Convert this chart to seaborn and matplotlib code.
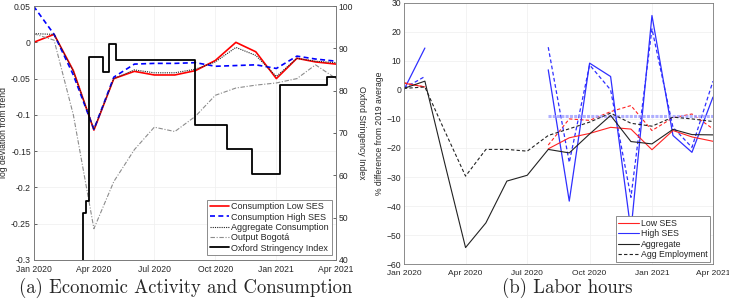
import seaborn as sns
import pandas as pd
import numpy as np
import matplotlib.pyplot as plt
import matplotlib.dates as mdates

# monthly dates Jan 2020 .. Apr 2021
months = pd.date_range("2020-01-01", "2021-04-01", freq="MS")

# panel (a): log deviation from trend
cons_low = [0.0, 0.011, -0.039, -0.121, -0.050, -0.040, -0.045, -0.045, -0.039,
            -0.025, 0.000, -0.013, -0.050, -0.022, -0.027, -0.030]
cons_high = [0.050, 0.011, -0.045, -0.120, -0.048, -0.030, -0.029, -0.029, -0.028,
             -0.033, -0.032, -0.031, -0.036, -0.019, -0.023, -0.026]
cons_agg = [0.012, 0.011, -0.040, -0.120, -0.050, -0.038, -0.042, -0.042, -0.037,
            -0.027, -0.007, -0.018, -0.047, -0.022, -0.026, -0.028]
output_bog = [0.012, 0.003, -0.100, -0.257, -0.192, -0.148, -0.117, -0.123, -0.102,
              -0.073, -0.063, -0.059, -0.056, -0.050, -0.031, -0.050]

# Oxford stringency index (step changes)
osi_dates = pd.to_datetime(["2020-01-01", "2020-03-15", "2020-03-20", "2020-03-24",
                            "2020-04-14", "2020-04-23", "2020-05-04", "2020-08-31",
                            "2020-10-18", "2020-11-25", "2021-01-06", "2021-03-19",
                            "2021-04-01"])
osi_vals = [5.6, 51, 54, 88, 84.5, 91, 87.3, 71.8, 66.2, 60.3, 81.3, 83.2, 83.2]

# panel (b): % difference from 2019 average
nan = np.nan
low_hours = [2.3, 1.0, nan, nan, nan, nan, nan, -20.3, -16.5, -15.0, -12.9, -13.5,
             -20.6, -14.0, -16.2, -17.7]
low_emp = [2.5, 1.0, nan, nan, nan, nan, nan, -19.0, -10.0, -10.5, -7.5, -5.4,
           -14.0, -9.6, -8.3, -13.4]
high_hours = [0.0, 14.4, nan, nan, nan, nan, nan, 6.9, -38.3, 9.2, 4.6, -48.6,
              25.6, -15.7, -21.5, -2.5]
high_emp = [0.5, 4.6, nan, nan, nan, nan, nan, 14.7, -25.0, 8.6, 0.0, -37.0,
            21.0, -12.9, -19.8, 3.0]
agg_hours = [0.5, 3.0, -25.0, -54.3, -45.8, -31.4, -29.4, -20.5, -21.7, -15.2,
             -8.8, -17.8, -18.6, -13.6, -15.4, -15.5]
agg_emp = [0.5, 1.0, -14.0, -29.7, -20.5, -20.5, -21.1, -15.7, -13.4, -11.1,
           -8.0, -11.5, -12.5, -9.4, -10.0, -10.9]
high_ref = -9.1

xticks = pd.to_datetime(["2020-01-01", "2020-04-01", "2020-07-01", "2020-10-01",
                         "2021-01-01", "2021-04-01"])

sns.set_style("whitegrid", {"grid.color": "#efefef", "axes.edgecolor": "#7a7a7a",
                            "xtick.direction": "in", "ytick.direction": "in"})
plt.rcParams["font.family"] = ["Liberation Sans", "DejaVu Sans"]
plt.rcParams["font.size"] = 6.2
plt.rcParams["axes.linewidth"] = 0.6
plt.rcParams["grid.linewidth"] = 0.5

fig = plt.figure(figsize=(7.29, 3.05), dpi=100)
ax1 = fig.add_axes([0.046, 0.148, 0.415, 0.832])
ax3 = fig.add_axes([0.554, 0.134, 0.424, 0.857])


def segs(vals):
    df = pd.DataFrame({"date": months, "val": vals})
    df["seg"] = df["val"].isna().cumsum()
    return df.dropna()


# ---- panel (a)
dfa = pd.DataFrame({"date": months, "low": cons_low, "high": cons_high,
                    "agg": cons_agg, "out": output_bog})
sns.lineplot(data=dfa, x="date", y="low", color="#ff0000", lw=1.2, ax=ax1,
             label="Consumption Low SES")
sns.lineplot(data=dfa, x="date", y="high", color="#0000ff", lw=1.2, ax=ax1,
             linestyle=(0, (3, 2)), label="Consumption High SES")
sns.lineplot(data=dfa, x="date", y="agg", color="#222222", lw=0.8, ax=ax1,
             linestyle=(0, (1, 1)), label="Aggregate Consumption")
sns.lineplot(data=dfa, x="date", y="out", color="#8c8c8c", lw=0.8, ax=ax1,
             linestyle=(0, (4, 1.5, 1, 1.5)), label="Output Bogotá")
ax1.set_ylim(-0.3, 0.05)
ax1.set_yticks([-0.3, -0.25, -0.2, -0.15, -0.1, -0.05, 0, 0.05])
ax1.set_yticklabels(["-0.3", "-0.25", "-0.2", "-0.15", "-0.1", "-0.05", "0", "0.05"])
ax1.set_ylabel("log deviation from trend", labelpad=2)
ax1.set_xlabel("")

ax2 = ax1.twinx()
dfs = pd.DataFrame({"date": osi_dates, "osi": osi_vals})
sns.lineplot(data=dfs, x="date", y="osi", color="black", lw=1.3, ax=ax2,
             drawstyle="steps-post", label="Oxford Stringency Index")
ax2.set_ylim(40, 100)
ax2.set_yticks(range(40, 101, 10))
ax2.grid(False)
ax2.set_ylabel("Oxford Stringency Index", rotation=270, labelpad=9)
ax2.set_xlabel("")

h1, l1 = ax1.get_legend_handles_labels()
h2, l2 = ax2.get_legend_handles_labels()
ax1.get_legend().remove()
ax2.get_legend().remove()
leg = ax2.legend(h1 + h2, l1 + l2, loc="lower right", fontsize=6.5, handlelength=2.2,
                 handletextpad=0.2, borderpad=0.3, labelspacing=0.15, fancybox=False,
                 edgecolor="#7a7a7a", framealpha=1, borderaxespad=0.5)
leg.get_frame().set_linewidth(0.6)

for ax in (ax1, ax2):
    ax.set_xlim(months[0], months[-1])
    ax.set_xticks(xticks)
    ax.xaxis.set_major_formatter(mdates.DateFormatter("%b %Y"))
    ax.tick_params(length=2.5, width=0.5, pad=2, colors="#262626")
    ax.tick_params(axis="x", pad=4)

# ---- panel (b)
def seg_line(vals, color, ls, lw):
    d = segs(vals)
    sns.lineplot(data=d, x="date", y="val", units="seg", estimator=None, color=color,
                 linestyle=ls, lw=lw, ax=ax3)

seg_line(low_emp, "#ff2222", (0, (3, 2)), 0.8)
seg_line(high_emp, "#2f2fff", (0, (3, 2)), 0.9)
seg_line(high_hours, "#2f2fff", "-", 0.9)
ax3.plot([months[7], months[-1]], [high_ref, high_ref], color="#9c9cff", lw=2.2,
         linestyle=(0, (1, 0.4)), alpha=0.8)
seg_line(low_hours, "#ff2222", "-", 0.8)
seg_line(agg_emp, "#222222", (0, (3, 2)), 0.8)
seg_line(agg_hours, "#222222", "-", 0.8)

ax3.plot([], [], color="#ff2222", lw=0.8, label="Low SES")
ax3.plot([], [], color="#2f2fff", lw=0.8, label="High SES")
ax3.plot([], [], color="#222222", lw=0.8, label="Aggregate")
ax3.plot([], [], color="#222222", lw=0.8, linestyle=(0, (3, 2)), label="Agg Employment")
leg3 = ax3.legend(loc="lower right", fontsize=6.3, handlelength=2.4, handletextpad=0.2,
                  borderpad=0.3, labelspacing=0.15, fancybox=False, edgecolor="#7a7a7a",
                  framealpha=1, borderaxespad=0.3)
leg3.get_frame().set_linewidth(0.6)

ax3.set_ylim(-60, 30)
ax3.set_yticks(range(-60, 31, 10))
ax3.set_xlim(months[0], months[-1])
ax3.set_xticks(xticks)
ax3.xaxis.set_major_formatter(mdates.DateFormatter("%b %Y"))
ax3.tick_params(length=2.5, width=0.5, pad=2, colors="#262626")
ax3.tick_params(axis="x", pad=4, labelsize=6.0)
ax3.set_ylabel("% difference from 2019 average", labelpad=2)
ax3.set_xlabel("")

fig.text(0.254, 0.055, "(a) Economic Activity and Consumption", family="cmr10",
         fontsize=13.5, ha="center", va="center")
fig.text(0.778, 0.055, "(b) Labor hours", family="cmr10",
         fontsize=13.5, ha="center", va="center")

fig.savefig("out.png", dpi=100)
